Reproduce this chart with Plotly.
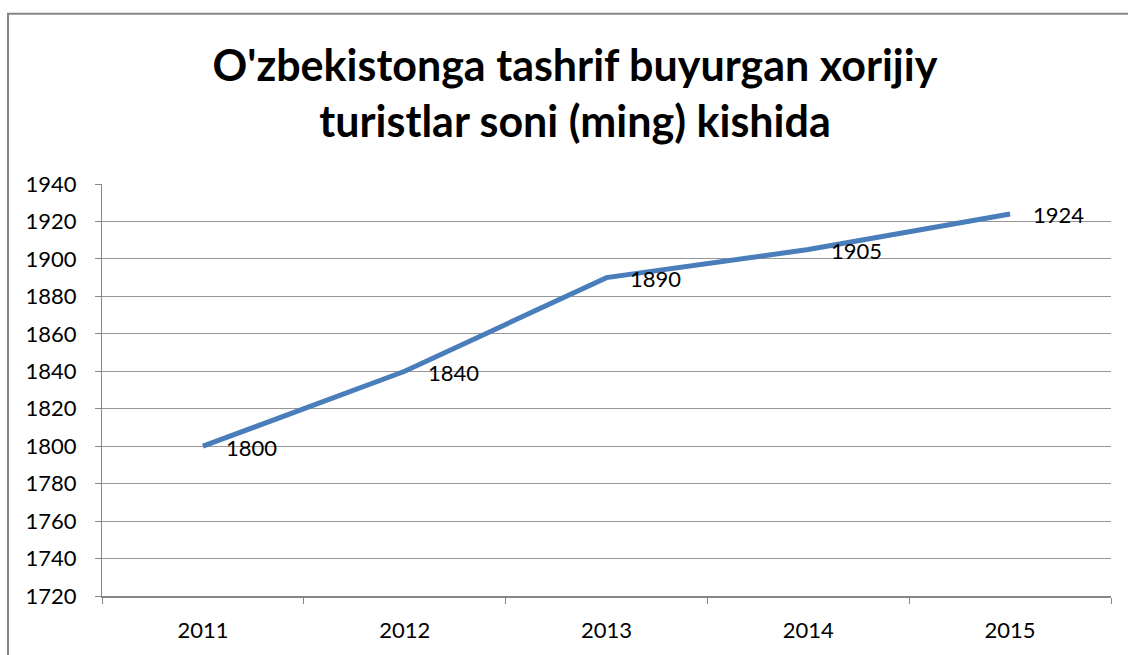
import plotly.graph_objects as go

years = ["2011", "2012", "2013", "2014", "2015"]
tourists = [1800, 1840, 1890, 1905, 1924]
title_text = "O'zbekistonga tashrif buyurgan xorijiy<br>turistlar soni (ming) kishida"

W, H = 1128, 655
L, R, T, B = 102, 17, 184, 57
pw, ph = W - L - R, H - T - B
FONT = "Lato, Open Sans, sans-serif"

fig = go.Figure()
fig.add_trace(go.Scatter(
    x=years, y=tourists, mode="lines",
    line=dict(color="#4A7EBB", width=5),
    hoverinfo="skip", showlegend=False,
))
for i, v in enumerate(tourists):
    fig.add_annotation(x=i, y=v, xref="x", yref="y", text=str(v), showarrow=False,
                       xanchor="left", yanchor="middle", xshift=21, yshift=-1,
                       font=dict(family=FONT, size=22, color="#000"))

fig.update_layout(
    width=W, height=H,
    margin=dict(l=L, r=R, t=T, b=B),
    paper_bgcolor="white", plot_bgcolor="white",
    title=dict(text=title_text, x=575 / W, xanchor="center",
               y=1 - 81 / H, yanchor="middle",
               font=dict(family=FONT, size=43, color="#000", weight="bold")),
    font=dict(family=FONT, size=22, color="#000"),
)
fig.update_xaxes(type="category", range=[-0.5, 4.5], showgrid=False,
                 showline=True, linecolor="#868686", linewidth=2,
                 ticks="outside", ticklen=6, tickcolor="#868686", tickwidth=1,
                 tickson="boundaries", tickfont=dict(size=22), ticklabelstandoff=14,
                 fixedrange=True)
fig.update_yaxes(range=[1720, 1940], dtick=20, showgrid=True, gridcolor="#969696", gridwidth=1,
                 showline=True, linecolor="#868686", linewidth=1,
                 ticks="outside", ticklen=6, tickcolor="#868686",
                 tickfont=dict(size=22), ticklabelstandoff=14,
                 zeroline=False, fixedrange=True)

# outer chart border (extends beyond the visible window on right and bottom)
def px2x(p):
    return (p - L) / pw
def py2y(p):
    return 1 - (p - T) / ph
fig.add_shape(type="rect", xref="paper", yref="paper",
              x0=px2x(8), x1=px2x(1140), y0=py2y(13), y1=py2y(670),
              line=dict(color="#868686", width=2), fillcolor="rgba(0,0,0,0)", layer="below")

fig.write_html("out.html")
